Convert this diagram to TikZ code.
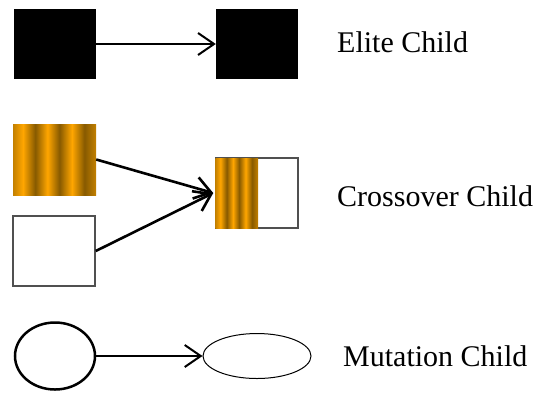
\documentclass[tikz,border=0pt]{standalone}
\usepackage{fontspec}
\setmainfont{Liberation Serif}
\usetikzlibrary{arrows.meta,shapes.geometric}
\definecolor{obright}{RGB}{255,166,0}
\definecolor{odark}{RGB}{135,90,0}
\definecolor{omid}{RGB}{195,128,0}
\definecolor{edgegray}{RGB}{80,80,80}
\pgfdeclarehorizontalshading{stripes}{100bp}{color(0bp)=(omid); color(25bp)=(omid); color(31bp)=(obright); color(38.4bp)=(odark); color(45.75bp)=(obright); color(53bp)=(odark); color(60.5bp)=(obright); color(68bp)=(odark); color(75bp)=(omid); color(100bp)=(omid)}
\begin{document}
\begin{tikzpicture}[x=1pt,y=-1pt,
  box/.style={rectangle, inner sep=0pt, minimum width=82pt, minimum height=70pt},
  blackbox/.style={box, fill=black},
  whitebox/.style={box, draw=edgegray, line width=1.5pt, fill=white},
  stripebox/.style={box, shading=stripes},
  arr/.style={-{Straight Barb[length=16pt,width=22pt,line width=2pt]}, line width=2pt},
  thickarr/.style={-{Straight Barb[length=16pt,width=22pt,line width=2.6pt]}, line width=2.6pt},
  lbl/.style={anchor=base west, inner sep=0pt, font=\fontsize{30}{36}\selectfont}]
\useasboundingbox (0,0) rectangle (534,392);
% Elite
\node[blackbox] (e1) at (55,44) {};
\node[blackbox] (e2) at (257,44) {};
\draw[arr] (e1.east) -- (e2.west);
\node[lbl] (t1) at (337,52) {Elite Child};
% Crossover
\node[stripebox, minimum width=83pt, minimum height=71pt] (c1) at (54.5,159.5) {};
\node[whitebox] (c2) at (54,251) {};
\node[whitebox] (c3) at (257,193) {};
\shade[shading=stripes] ([xshift=0pt,yshift=-0.75pt]c3.north west) rectangle ([xshift=1pt,yshift=0.75pt]c3.south);
\coordinate (c3in) at ([xshift=-2pt]c3.west);
\draw[thickarr] (c1.east) -- (c3in);
\draw[thickarr] (c2.east) -- (c3in);
\node[lbl] (t2) at (337,206) {Crossover Child};
% Mutation
\node[ellipse, draw=black, line width=2.5pt, inner sep=0pt, minimum width=80pt, minimum height=67pt] (m1) at (55,356) {};
\node[ellipse, draw=black, line width=1pt, inner sep=0pt, minimum width=108pt, minimum height=45pt] (m2) at (257,356) {};
\draw[arr] (m1.east) -- (m2.west);
\node[lbl] (t3) at (343,366) {Mutation Child};
\end{tikzpicture}
\end{document}
